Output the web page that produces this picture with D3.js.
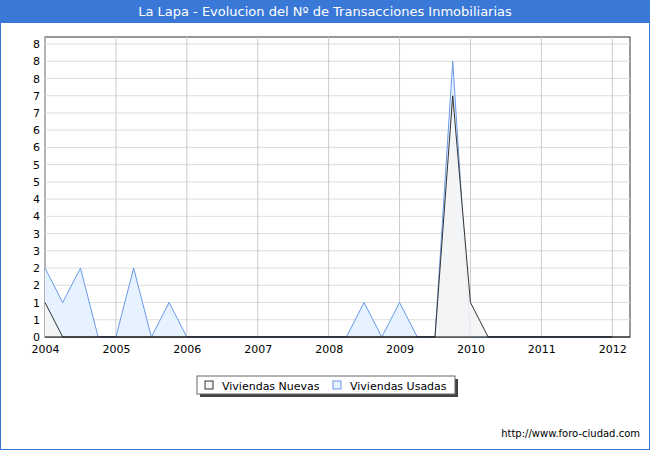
<!DOCTYPE html><html><head><meta charset="utf-8"><script src="https://cdn.jsdelivr.net/npm/d3@7"></script>
<style>body{margin:0;background:#fff}</style></head><body><svg id="c" width="650" height="450"></svg><script>
const quarters=[];for(let y=2004;y<=2012.001;y+=0.25)quarters.push(y);
const usadas=[2,1,2,0,0,2,0,1,0,0,0,0,0,0,0,0,0,0,1,0,1,0,0,8,0,0,0,0,0,0,0,0,0];
const nuevas=[1,0,0,0,0,0,0,0,0,0,0,0,0,0,0,0,0,0,0,0,0,0,0,7,1,0,0,0,0,0,0,0,0];
const yTicks=d3.range(0,8.51,0.5);
const yLabels=["0","1","1","2","2","3","3","4","4","5","5","6","6","7","7","8","8","8"];
const xYears=[2004,2005,2006,2007,2008,2009,2010,2011,2012];
const svg=d3.select("#c");
svg.append("rect").attr("x",0.5).attr("y",0.5).attr("width",649).attr("height",449).attr("fill","#fff").attr("stroke","#3a78d8");
svg.append("rect").attr("width",650).attr("height",23).attr("fill","#3a78d8");
svg.append("text").attr("x",325).attr("y",16).attr("text-anchor","middle").attr("fill","#fff").attr("font-family","Verdana, DejaVu Sans").attr("font-size",13).text("La Lapa - Evolucion del Nº de Transacciones Inmobiliarias");
const L=45,R=630,T=37,B=337;
const x=d3.scaleLinear().domain([2004,2012.25]).range([L,R]);
const y=d3.scaleLinear().domain([0,8.5]).range([B,44]);
svg.append("rect").attr("x",L).attr("y",T).attr("width",R-L).attr("height",B-T).attr("fill","#fff").attr("stroke","#333");
const g=svg.append("g");
yTicks.forEach(t=>g.append("line").attr("x1",L).attr("x2",R).attr("y1",y(t)).attr("y2",y(t)).attr("stroke","#ddd"));
xYears.forEach(t=>g.append("line").attr("x1",x(t)).attr("x2",x(t)).attr("y1",T).attr("y2",B).attr("stroke","#ccc"));
const sU=quarters.map((q,i)=>[q,usadas[i]]),sN=quarters.map((q,i)=>[q,nuevas[i]]);
const area=d3.area().x(d=>x(d[0])).y0(B).y1(d=>y(d[1]));
const line=d3.line().x(d=>x(d[0])).y(d=>y(d[1]));
g.append("path").attr("d",area(sU)).attr("fill","#e6f2ff");
g.append("path").attr("d",line(sU)).attr("fill","none").attr("stroke","#6a9ae8");
g.append("path").attr("d",area(sN)).attr("fill","#f4f4f4").attr("fill-opacity",0.9);
g.append("path").attr("d",line(sN)).attr("fill","none").attr("stroke","#333");
svg.append("line").attr("x1",L).attr("x2",R).attr("y1",B).attr("y2",B).attr("stroke","#000");
const ya=svg.append("g").attr("transform",`translate(${L},0)`).call(d3.axisLeft(y).tickValues(yTicks).tickSize(0).tickPadding(5).tickFormat((d,i)=>yLabels[i]));
ya.select(".domain").remove();
const xa=svg.append("g").attr("transform",`translate(0,${B})`).call(d3.axisBottom(x).tickValues(xYears).tickSize(0).tickPadding(8).tickFormat(d3.format("d")));
xa.select(".domain").remove();
svg.selectAll(".tick text").attr("font-family","Verdana, DejaVu Sans").attr("font-size",11).attr("fill","#000");
const lg=svg.append("g");
lg.append("rect").attr("x",200).attr("y",379).attr("width",258).attr("height",18).attr("fill","#444");
lg.append("rect").attr("x",197).attr("y",376).attr("width",258).attr("height",18).attr("fill","#fff").attr("stroke","#666");
[[205,"#f4f4f4","#333","Viviendas Nuevas"],[333,"#e6f2ff","#6a9ae8","Viviendas Usadas"]].forEach(([lx,f,s,t])=>{
lg.append("rect").attr("x",lx).attr("y",381).attr("width",8).attr("height",8).attr("fill",f).attr("stroke",s);
lg.append("text").attr("x",lx+17).attr("y",389.5).attr("font-family","Verdana, DejaVu Sans").attr("font-size",11).text(t);});
svg.append("text").attr("x",640).attr("y",437).attr("text-anchor","end").attr("font-family","Verdana, DejaVu Sans").attr("font-size",10).text("http://www.foro-ciudad.com");
</script></body></html>
